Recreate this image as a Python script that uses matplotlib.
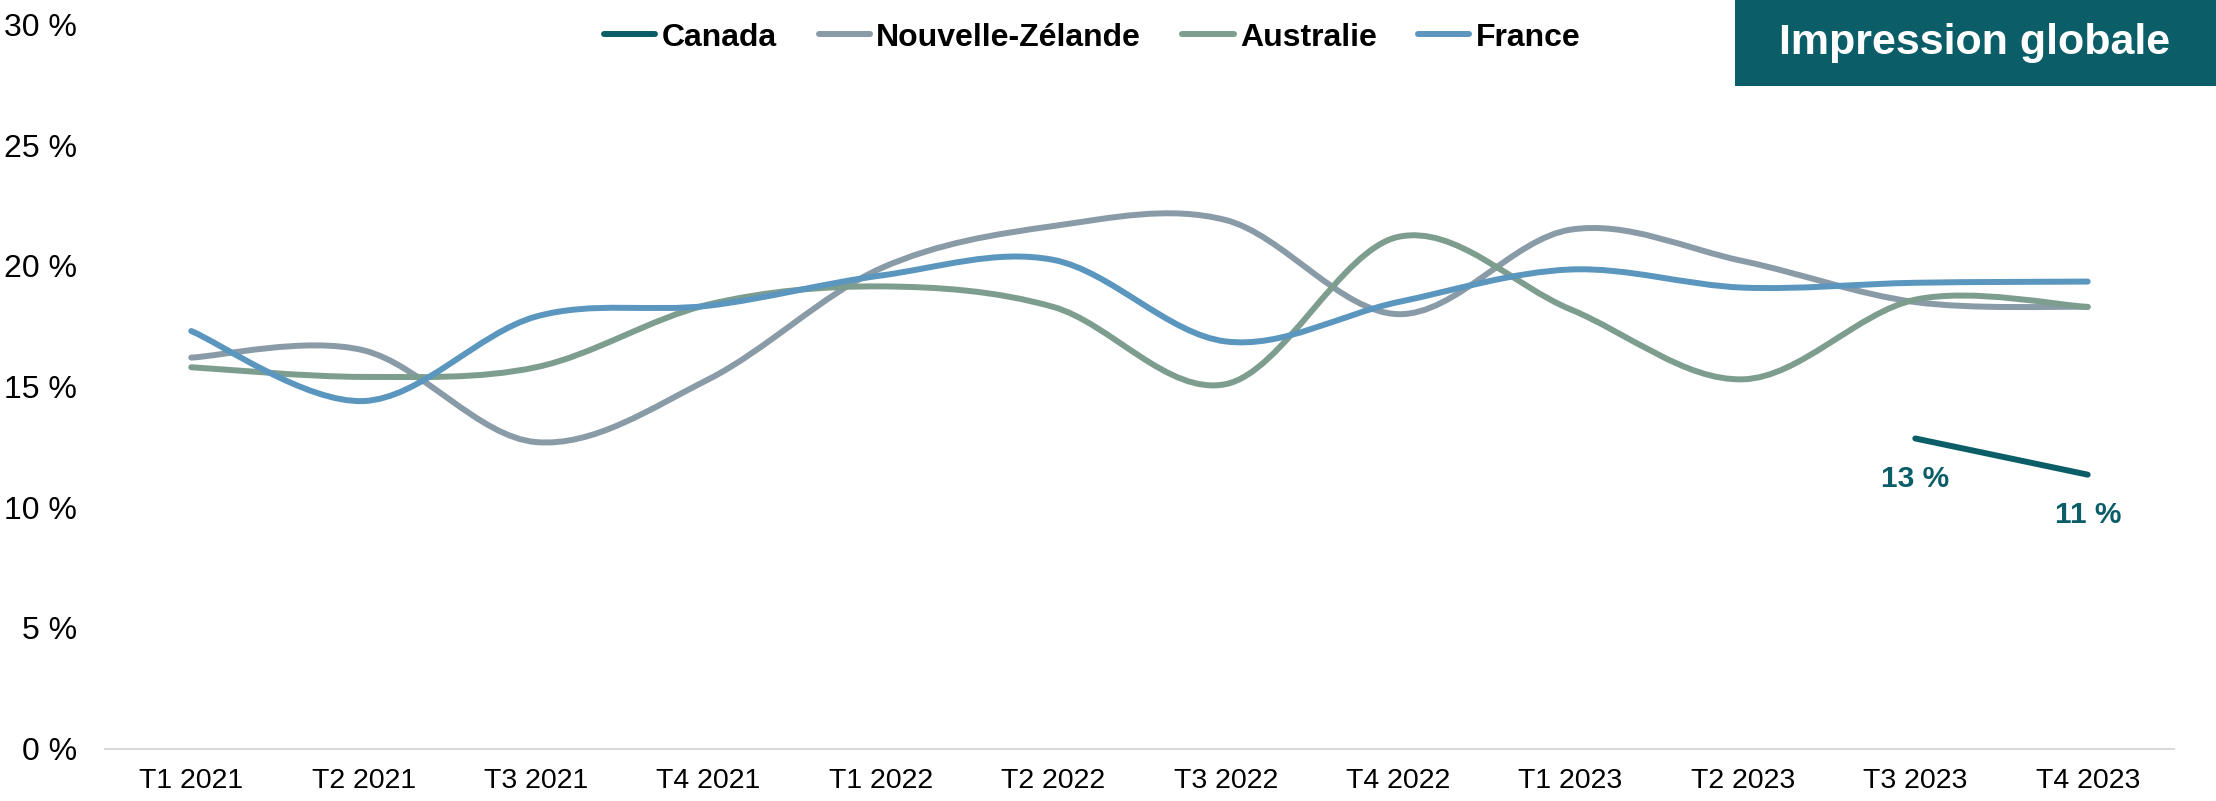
import numpy as np
import matplotlib
matplotlib.use("Agg")
import matplotlib.pyplot as plt
from matplotlib.path import Path
from matplotlib.patches import PathPatch, Rectangle
from matplotlib.lines import Line2D

# données (en %)
trimestres = ["T1 2021", "T2 2021", "T3 2021", "T4 2021",
              "T1 2022", "T2 2022", "T3 2022", "T4 2022",
              "T1 2023", "T2 2023", "T3 2023", "T4 2023"]
canada = [np.nan] * 10 + [12.85, 11.35]
nouvelle_zelande = [16.2, 16.5, 12.7, 15.3, 19.9, 21.65, 21.9, 18.0, 21.5, 20.2, 18.5, 18.3]
australie = [15.8, 15.4, 15.8, 18.4, 19.15, 18.3, 15.1, 21.2, 18.2, 15.3, 18.6, 18.3]
france = [17.3, 14.4, 17.9, 18.35, 19.6, 20.25, 16.87, 18.5, 19.85, 19.1, 19.3, 19.35]

series = [("Canada", canada, "#0B5E68"),
          ("Nouvelle-Zélande", nouvelle_zelande, "#8A9BA8"),
          ("Australie", australie, "#7D9E8E"),
          ("France", france, "#5B96BE")]

plt.rcParams['font.family'] = ['Liberation Sans', 'DejaVu Sans']

LW = 4.3


def courbe_lissee(ax, xs, ys, color):
    # lissage facon Excel : bezier cubiques entre points consecutifs
    pts = [(x, y) for x, y in zip(xs, ys) if not np.isnan(y)]
    if len(pts) < 2:
        return
    p = np.array(pts, dtype=float)
    verts = [tuple(p[0])]
    codes = [Path.MOVETO]
    n = len(p)
    for i in range(n - 1):
        p0 = p[i - 1] if i > 0 else p[i]
        p3 = p[i + 2] if i + 2 < n else p[i + 1]
        c1 = p[i] + (p[i + 1] - p0) / 6.0
        c2 = p[i + 1] - (p3 - p[i]) / 6.0
        verts += [tuple(c1), tuple(c2), tuple(p[i + 1])]
        codes += [Path.CURVE4] * 3
    patch = PathPatch(Path(verts, codes), facecolor="none", edgecolor=color,
                      lw=LW, capstyle="round", joinstyle="round", zorder=3)
    ax.add_patch(patch)


fig = plt.figure(figsize=(22.16, 8.01), dpi=100)
ax = fig.add_axes([0.0474, 0.0654, 0.9336, 0.904])

x = np.arange(len(trimestres))
for nom, vals, col in series:
    courbe_lissee(ax, x, vals, col)

# etiquettes Canada
for xi, v in zip(x, canada):
    if not np.isnan(v):
        ax.annotate(f"{v:.0f} %", (xi, v), xytext=(0, -29), textcoords="offset points",
                    ha="center", va="center", fontsize=21.5, fontweight="bold", color="#0B5E68")

ax.set_xlim(-0.5, len(trimestres) - 0.5)
ax.set_ylim(0, 30)
ax.set_xticks(x)
ax.set_xticklabels(trimestres)
ax.set_yticks(np.arange(0, 31, 5))
ax.set_yticklabels([f"{v} %" for v in range(0, 31, 5)])
ax.tick_params(axis="both", length=0, colors="black")
ax.tick_params(axis="y", pad=20, labelsize=23)
ax.tick_params(axis="x", pad=14, labelsize=20.5)
for s in ["top", "right", "left"]:
    ax.spines[s].set_visible(False)
ax.spines["bottom"].set_color("#D9D9D9")
ax.spines["bottom"].set_linewidth(1.5)

handles = [Line2D([0], [0], color=col, lw=LW, solid_capstyle="round") for _, _, col in series]
fig.legend(handles, [s[0] for s in series], loc="center", bbox_to_anchor=(0.493, 0.953),
           ncol=4, frameon=False, handlelength=1.6, handletextpad=0.2, columnspacing=1.3,
           prop={"weight": "bold", "size": 23})

# encadre titre
fig.patches.append(Rectangle((0.783, 0.8926), 0.217, 0.1074, transform=fig.transFigure,
                             facecolor="#0B5E68", edgecolor="none", zorder=5))
fig.text(0.891, 0.946, "Impression globale", ha="center", va="center", color="white",
         fontsize=31, fontweight="bold", zorder=6)

fig.savefig("out.png", dpi=100)
